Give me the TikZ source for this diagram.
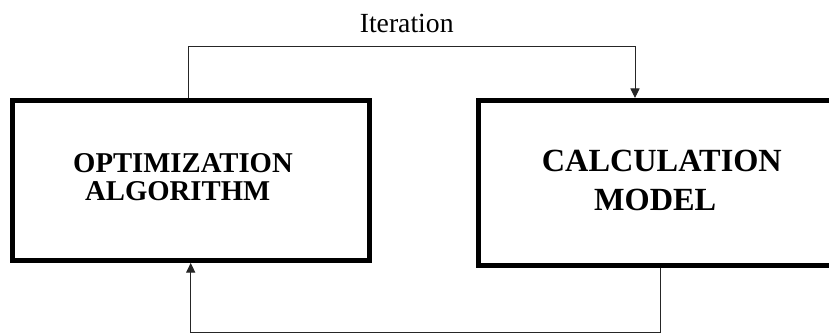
\documentclass[tikz,border=0pt]{standalone}
\usepackage{fontspec}
\setmainfont{Liberation Serif}
\usetikzlibrary{arrows.meta}
\tikzset{
  block/.style={draw, line width=5pt, rectangle, inner sep=0pt},
  link/.style={line width=1pt, draw=black!85},
  tip/.style={-{Triangle[length=9.5pt,width=9pt]}},
  boxtext/.style={anchor=base west, inner sep=0pt, font=\bfseries\fontsize{#1}{#1}\selectfont},
}
\begin{document}
\begin{tikzpicture}[x=1pt,y=-1pt]
  \clip (0,0) rectangle (829,334);
  \fill[white] (0,0) rectangle (829,334);

  % the two blocks
  \node[block, minimum width=357pt, minimum height=159.7pt] (opt) at (191,180.65) {};
  \node[block, minimum width=366.5pt, minimum height=164.7pt] (calc) at (661.75,182.85) {};

  % block labels
  \node[boxtext=28.7] (opt1) at (73,172.3) {OPTIMIZATION};
  \node[boxtext=28.7] (opt2) at (85,200.7) {ALGORITHM};
  \node[boxtext=32.3] (calc1) at (541.7,171.7) {CALCULATION};
  \node[boxtext=32.3] (calc2) at (594,210) {MODEL};

  % iteration loop
  \coordinate (t1) at (188.3,46.7);
  \coordinate (t2) at (635,46.7);
  \coordinate (b1) at (660,332);
  \coordinate (b2) at (190.7,332);
  \draw[link, tip] (opt.north -| t1) -- (t1) -- (t2) -- (calc.north -| t2);
  \draw[link, tip] (calc.south -| b1) -- (b1) -- (b2) -- (opt.south -| b2);

  \node[anchor=base, inner sep=0pt, font=\fontsize{27.7}{27.7}\selectfont] (iter) at (406.7,33) {Iteration};
\end{tikzpicture}
\end{document}
